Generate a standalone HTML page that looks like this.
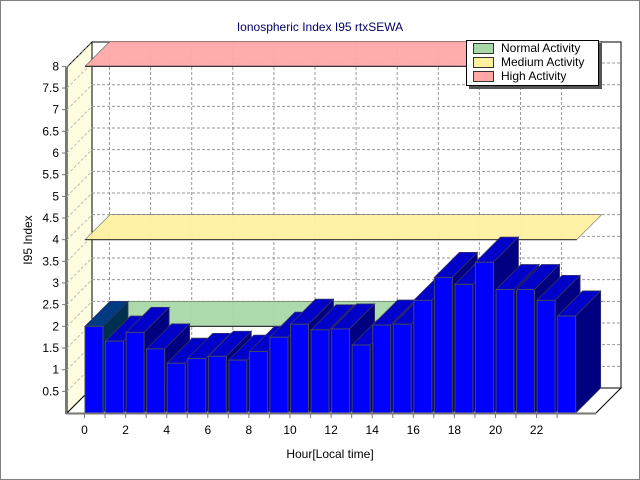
<!DOCTYPE html>
<html><head><meta charset="utf-8"><style>
html,body{margin:0;padding:0;background:#fff}
svg{display:block;font-family:Tahoma,"Liberation Sans",sans-serif}
</style></head><body>
<svg id="chart" width="640" height="480" viewBox="0 0 640 480" xmlns="http://www.w3.org/2000/svg">
<rect x="0.5" y="0.5" width="639" height="479" fill="#fff" stroke="#808080"/>
<text x="320" y="31" text-anchor="middle" font-size="12" fill="#000066">Ionospheric Index I95 rtxSEWA</text>
<g id="walls"></g>
<g id="grid"></g>
<g id="planes"></g>
<g id="bars"></g>
<g id="axes"></g>
<text x="330" y="458" text-anchor="middle" font-size="12" fill="#000">Hour[Local time]</text>
<text transform="translate(32,240) rotate(-90)" text-anchor="middle" font-size="12" fill="#000">I95 Index</text>
<g>
<rect x="469" y="43" width="133" height="46" fill="#555"/>
<rect x="466.5" y="40.5" width="132" height="45" fill="#fff" stroke="#000"/>
<g><rect x="473.5" y="43.5" width="20" height="10" fill="#a8d8a8" stroke="#333"/><text x="501" y="52" font-size="12">Normal Activity</text></g>
<g><rect x="473.5" y="57.5" width="20" height="10" fill="#fff0a0" stroke="#333"/><text x="501" y="66" font-size="12">Medium Activity</text></g>
<g><rect x="473.5" y="71.5" width="20" height="10" fill="#ffa8a8" stroke="#333"/><text x="501" y="80" font-size="12">High Activity</text></g>
</g>
</svg>
<script>
const hours = [0,1,2,3,4,5,6,7,8,9,10,11,12,13,14,15,16,17,18,19,20,21,22,23];
const values = [2.0,1.66,1.86,1.48,1.15,1.26,1.31,1.22,1.42,1.75,2.05,1.92,1.94,1.57,2.03,2.05,2.6,3.13,2.97,3.48,2.85,2.85,2.6,2.24];
const yTicks = [0.5,1,1.5,2,2.5,3,3.5,4,4.5,5,5.5,6,6.5,7,7.5,8];
const xTickLabels = [0,2,4,6,8,10,12,14,16,18,20,22];
const bandLevels = [2,4,8];
const bandColors = ['#a8d8a8','#fff0a0','#ffa8a8'];
const bandNames = ['normal-activity-band','medium-activity-band','high-activity-band'];

const NS='http://www.w3.org/2000/svg';
const D=25, FLOOR=413, SCALE=43.33, X0=84.5, PITCH=20.55, BW=18;
const yF=v=>FLOOR-v*SCALE;
const xF=h=>X0+h*PITCH;
function mk(parent,tag,attrs){const e=document.createElementNS(NS,tag);for(const k in attrs)e.setAttribute(k,attrs[k]);document.getElementById(parent).appendChild(e);return e;}
const pts=a=>a.map(p=>p.join(',')).join(' ');

// walls
let e=mk('walls','rect',{x:92,y:42,width:529,height:346,fill:'#fff',stroke:'#000'});


e=mk('walls','polygon',{points:pts([[67,67],[92,42],[92,388],[67,413]]),fill:'#fffde0',stroke:'#000','stroke-width':1});


e=mk('walls','polygon',{points:pts([[67,413],[92,388],[621,388],[596,413]]),fill:'#fff',stroke:'#000','stroke-width':1});



// grid
yTicks.forEach(v=>{
  if(v<8){
  const g=mk('grid','line',{x1:92,x2:621,y1:yF(v)-D,y2:yF(v)-D,stroke:'#999','stroke-dasharray':'3,2'});
  
  }
  const d=mk('grid','line',{x1:67,y1:yF(v),x2:92,y2:yF(v)-D,stroke:'#bbb','stroke-dasharray':'3,2'});
  
  
});
xTickLabels.forEach(h=>{
  const g=mk('grid','line',{x1:xF(h)+D,x2:xF(h)+D,y1:42,y2:388,stroke:'#999','stroke-dasharray':'3,2'});
  
  
});

// bands
bandLevels.forEach((v,i)=>{
  const y=yF(v), x1=xF(0)+0.5, x2=xF(23)+BW+1.5;
  const p=mk('planes','polygon',{points:pts([[x1,y],[x1+D,y-D],[x2+D,y-D],[x2,y]]),fill:bandColors[i],'fill-opacity':0.95,stroke:'#666','stroke-width':0.6});
  
  
  const l=mk('planes','line',{x1:x1,x2:x2,y1:y,y2:y,stroke:'#333','stroke-width':1.2});
  
  
});

// bars
hours.forEach((h,i)=>{
  const x=xF(h)+0.5, y=yF(values[i]), b=FLOOR;
  const top=mk('bars','polygon',{points:pts([[x,y],[x+D,y-D],[x+BW+D,y-D],[x+BW,y]]),fill:i===0?'#003a80':'#0000c8',stroke:'#333366','stroke-width':0.8});
  
  
  const side=mk('bars','polygon',{points:pts([[x+BW,y],[x+BW+D,y-D],[x+BW+D,b-D],[x+BW,b]]),fill:i===0?'#003050':'#000080',stroke:'#333366','stroke-width':0.8});
  
  
  const front=mk('bars','rect',{x:x,y:y,width:BW,height:b-y,fill:'#0000ff',stroke:'#444466','stroke-width':1});
  
  
});

// axes
e=mk('axes','line',{x1:66,x2:66,y1:67,y2:414,stroke:'#777','stroke-width':2});


e=mk('axes','line',{x1:66,x2:596,y1:413.5,y2:413.5,stroke:'#777','stroke-width':2});


yTicks.forEach(v=>{
  const t=mk('axes','line',{x1:62,x2:66,y1:yF(v),y2:yF(v),stroke:'#777'});
  
  
  const lbl=mk('axes','text',{x:59,y:yF(v)+4,'text-anchor':'end','font-size':12,fill:'#000'});
  lbl.textContent=String(v);
  
  
});
hours.forEach(h=>{
  const t=mk('axes','line',{x1:xF(h),x2:xF(h),y1:414,y2:418,stroke:'#777'});
  
  
});
xTickLabels.forEach(h=>{
  const lbl=mk('axes','text',{x:xF(h),y:434,'text-anchor':'middle','font-size':12,fill:'#000'});
  lbl.textContent=String(h);
  
  
});
</script>
</body></html>
